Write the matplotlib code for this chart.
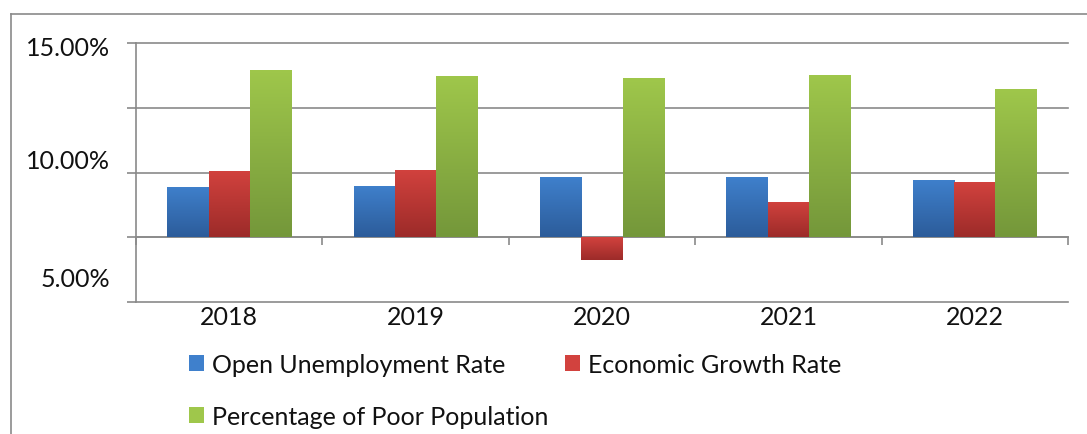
import numpy as np
import matplotlib.pyplot as plt
from matplotlib.colors import LinearSegmentedColormap
from matplotlib.lines import Line2D
from matplotlib.patches import Patch
from matplotlib.transforms import ScaledTranslation

# Данные
years = ['2018', '2019', '2020', '2021', '2022']
unemployment = [9.45, 9.49, 9.81, 9.81, 9.72]
growth = [10.05, 10.10, 6.64, 8.86, 9.62]
poverty = [13.95, 13.73, 13.63, 13.76, 13.21]

series_names = ['Open Unemployment Rate', 'Economic Growth Rate',
                'Percentage of Poor Population']
y_ticks = [5, 7.5, 10, 12.5, 15]
y_tick_labels = ['5.00%', '', '10.00%', '', '15.00%']

# Оформление
baseline = 7.5
colors = [('#2c5c9a', '#3f80cc'), ('#9c2b29', '#d2423e'), ('#74973a', '#9fc74b')]
grid_color = '#8a8a8a'
text_color = '#111111'
font = 'Lato'
fs = 18

W, H = 1087, 435
fig = plt.figure(figsize=(W / 100, H / 100), dpi=100)
ax = fig.add_axes([136 / W, 1 - 303 / H, (1068 - 136) / W, (303 - 44) / H])

x = np.arange(len(years))
width = 0.222

for i, vals in enumerate([unemployment, growth, poverty]):
    dark, light = colors[i]
    cmap = LinearSegmentedColormap.from_list('g%d' % i, [dark, light])
    bars = ax.bar(x + (i - 1) * width, np.array(vals) - baseline, width,
                  bottom=baseline, color=light, zorder=2, linewidth=0)
    # Градиентная заливка столбцов
    for b in bars:
        y0 = min(b.get_y(), b.get_y() + b.get_height())
        y1 = max(b.get_y(), b.get_y() + b.get_height())
        grad = np.linspace(1, 0, 256).reshape(-1, 1)
        im = ax.imshow(grad, extent=(b.get_x(), b.get_x() + b.get_width(), y0, y1),
                       cmap=cmap, aspect='auto', zorder=3, origin='upper')
        im.set_clip_path(b)

ax.set_xlim(-0.5, len(years) - 0.5)
ax.set_ylim(5, 15)

# Ось Y
ax.set_yticks(y_ticks)
ax.set_yticklabels(y_tick_labels, fontsize=fs, color=text_color, family=font)
ax.tick_params(axis='y', length=6.5, color=grid_color, width=1.2, pad=12)
ax.yaxis.grid(True, color=grid_color, linewidth=1.2, zorder=0)
ax.set_axisbelow(True)
for line in ax.get_ygridlines():
    line.set_clip_on(False)

# Смещение подписей как на оригинале
shifts = [18, 0, 10, 0, -1.5]
for lab, dy in zip(ax.get_yticklabels(), shifts):
    lab.set_transform(lab.get_transform() + ScaledTranslation(0, dy / 72, fig.dpi_scale_trans))

# Ось X на уровне baseline
ax.spines['bottom'].set_position(('data', baseline))
ax.spines['bottom'].set_color(grid_color)
ax.spines['bottom'].set_linewidth(1.2)
ax.spines['left'].set_color(grid_color)
ax.spines['left'].set_linewidth(1.2)
ax.spines['top'].set_visible(False)
ax.spines['right'].set_visible(False)

ax.set_xticks(x)
ax.set_xticklabels(years, fontsize=fs, color=text_color, family=font)
ax.set_xticks(np.arange(-0.5, len(years), 1), minor=True)
ax.tick_params(axis='x', which='major', length=0, pad=49)
ax.tick_params(axis='x', which='minor', length=6, color=grid_color, width=1.2)

# Легенда
handles = [Patch(facecolor=colors[0][1]), Patch(facecolor=colors[2][1]),
           Patch(facecolor=colors[1][1])]
labels = [series_names[0], series_names[2], series_names[1]]
fig.legend(handles, labels, ncol=2, loc='upper left',
           bbox_to_anchor=(189 / W, 1 - 354 / H), frameon=False,
           prop={'family': font, 'size': fs}, labelcolor=text_color,
           handlelength=0.6, handleheight=0.6, handletextpad=0.3,
           columnspacing=0.7, labelspacing=1.15, borderpad=0, borderaxespad=0)

# Рамка
fig.add_artist(Line2D([11 / W, 11 / W], [0, 1 - 15 / H], color=grid_color, linewidth=1.2))
fig.add_artist(Line2D([11 / W, 1], [1 - 15 / H, 1 - 15 / H], color=grid_color, linewidth=1.2))

fig.savefig('out.png', dpi=100)
